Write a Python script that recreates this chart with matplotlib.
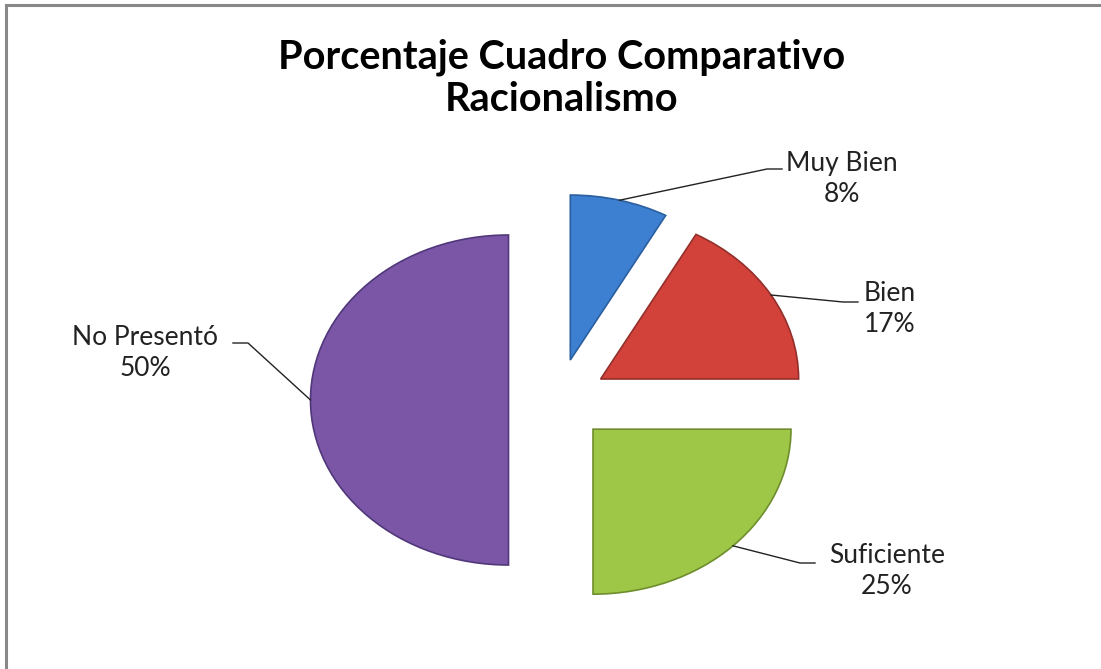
import matplotlib.pyplot as plt
import numpy as np

plt.rcParams['font.family'] = ['Lato', 'DejaVu Sans']

categories = ['Muy Bien', 'Bien', 'Suficiente', 'No Presentó']
percentages = [8, 17, 25, 50]
colors = ['#3d7fd1', '#d3413b', '#9ec647', '#7c56a6']
edges = ['#2b5f9f', '#93302b', '#6e8e2e', '#50377a']

W, H, DPI = 1101, 669, 100
# pie centre in pixels and radius (x is stretched wider than y)
CX, CY = 558, 400
RX, RY = 198, 165
EXPLODE = 0.25

fig = plt.figure(figsize=(W / DPI, H / DPI), dpi=DPI)
ax = fig.add_axes([0, 0, 1, 1])

wedges, _ = ax.pie(percentages, colors=colors, startangle=90, counterclock=False,
                   explode=[EXPLODE] * len(percentages), radius=1,
                   wedgeprops=dict(linewidth=1.2))
for w, ec in zip(wedges, edges):
    w.set_edgecolor(ec)

ax.set_aspect('auto')
ax.set_xlim(-CX / RX, (W - CX) / RX)
ax.set_ylim((CY - H) / RY, CY / RY)
ax.axis('off')


def px(x, y):
    # pixel position -> data coordinates
    return (x - CX) / RX, (CY - y) / RY


# label text centre, leader elbow and leader end (pixels)
label_pos = [(842, 179), (890, 309), (887, 571), (145, 353)]
elbows = [(767, 169), (843, 302), (800, 563), (248, 343)]
ends = [(782, 169), (858, 302), (815, 563), (233, 343)]

for w, name, pct, lp, el, en in zip(wedges, categories, percentages, label_pos, elbows, ends):
    mid = np.deg2rad((w.theta1 + w.theta2) / 2)
    cx, cy = w.center
    ax_pt = (cx + w.r * np.cos(mid), cy + w.r * np.sin(mid))
    e1 = px(*el)
    e2 = px(*en)
    ax.plot([ax_pt[0], e1[0], e2[0]], [ax_pt[1], e1[1], e2[1]],
            color='#222222', linewidth=1.0, zorder=1)
    tx, ty = px(*lp)
    ax.text(tx, ty, '%s\n%d%%' % (name, pct), ha='center', va='center',
            fontsize=19, color='#222222', linespacing=1.28)

fig.text(562 / W, 1 - 78 / H, 'Porcentaje Cuadro Comparativo\nRacionalismo',
         ha='center', va='center', fontsize=28.5, fontweight='bold',
         color='black', linespacing=1.17)

# chart frame (top and left edges)
fig.add_artist(plt.Line2D([6 / W, 1], [1 - 5 / H, 1 - 5 / H], color='#888888', linewidth=2.2))
fig.add_artist(plt.Line2D([6 / W, 6 / W], [0, 1 - 5 / H], color='#888888', linewidth=2.2))

fig.savefig('out.png', dpi=DPI)
